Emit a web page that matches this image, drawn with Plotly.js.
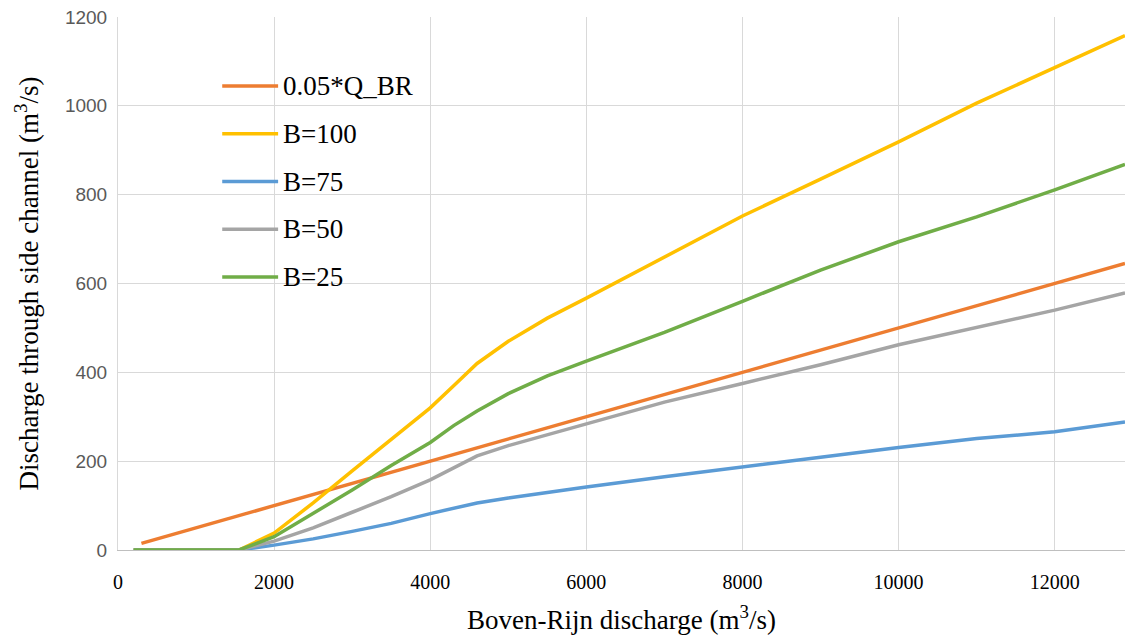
<!DOCTYPE html>
<html>
<head>
<meta charset="utf-8">
<script src="https://cdn.plot.ly/plotly-3.0.1.min.js"></script>
<style>
  html, body { margin: 0; padding: 0; background: #fff; }
  #chart { width: 1125px; height: 642px; }
</style>
</head>
<body>
<div id="chart"></div>
<script>
// ---- Data ----
const seriesNames = ["0.05*Q_BR", "B=100", "B=75", "B=50", "B=25"];
const seriesColors = ["#ED7D31", "#FFC000", "#5B9BD5", "#A5A5A5", "#70AD47"];

const qbrX = [300, 1000, 2000, 3000, 4000, 5000, 6000, 7000, 8000, 9000, 10000, 11000, 12000, 12900];
const qbrY = [15, 50, 100, 150, 200, 250, 300, 350, 400, 450, 500, 550, 600, 645];

const bX = [200, 1000, 1550, 2000, 2500, 3000, 3500, 4000, 4300, 4600, 5000, 5500, 6000, 7000, 8000, 9000, 10000, 11000, 12000, 12900];
const b100Y = [0, 0, 0, 38, 106, 178, 250, 320, 370, 420, 470, 522, 567, 660, 752, 835, 919, 1006, 1085, 1158];
const b75Y  = [0, 0, 0, 11, 25, 42, 60, 82, 95, 106, 117, 130, 142, 165, 188, 209, 231, 251, 266, 288];
const b50Y  = [0, 0, 0, 20, 50, 85, 120, 158, 185, 212, 235, 260, 283, 333, 375, 417, 462, 502, 540, 579];
const b25Y  = [0, 0, 0, 30, 82, 135, 190, 242, 280, 313, 352, 392, 425, 490, 560, 630, 694, 750, 811, 868];

const xTitle = "Boven-Rijn discharge (m<sup>3</sup>/s)";
const yTitle = "Discharge through side channel (m<sup>3</sup>/s)";

const xs = [qbrX, bX, bX, bX, bX];
const ys = [qbrY, b100Y, b75Y, b50Y, b25Y];

const traces = seriesNames.map((n, i) => ({
  type: "scatter",
  mode: "lines",
  name: n,
  x: xs[i],
  y: ys[i],
  line: { color: seriesColors[i], width: 3.5 },
  showlegend: false
}));

// custom legend (line sample + label) in paper coordinates
const legTop = 0.8705, legStep = 0.0896;
const shapes = [];
const annotations = [];
seriesNames.forEach((n, i) => {
  const yy = legTop - i * legStep;
  shapes.push({
    type: "line", xref: "paper", yref: "paper",
    x0: 0.1035, x1: 0.159, y0: yy, y1: yy,
    line: { color: seriesColors[i], width: 3.5 }
  });
  annotations.push({
    xref: "paper", yref: "paper", x: 0.162, y: yy,
    xanchor: "left", yanchor: "middle", showarrow: false,
    text: n,
    font: { family: "Liberation Serif, Times New Roman, serif", size: 27, color: "#000" }
  });
});

const layout = {
  width: 1125, height: 642,
  margin: { l: 118, r: 0, t: 17, b: 92 },
  paper_bgcolor: "#fff", plot_bgcolor: "#fff",
  showlegend: false,
  xaxis: {
    range: [0, 12900],
    tickvals: [0, 2000, 4000, 6000, 8000, 10000, 12000],
    ticktext: ["0", "2000", "4000", "6000", "8000", "10000", "12000"],
    showgrid: true, gridcolor: "#D9D9D9", gridwidth: 1,
    zeroline: false,
    showline: true, linecolor: "#BFBFBF", linewidth: 1,
    ticks: "", ticklabelstandoff: 14,
    tickfont: { family: "Liberation Serif, Times New Roman, serif", size: 20, color: "#000" },
    title: { text: xTitle, standoff: 18,
      font: { family: "Liberation Serif, Times New Roman, serif", size: 27, color: "#000" } }
  },
  yaxis: {
    range: [0, 1200],
    tickvals: [0, 200, 400, 600, 800, 1000, 1200],
    showgrid: true, gridcolor: "#D9D9D9", gridwidth: 1,
    zeroline: false,
    showline: true, linecolor: "#D9D9D9", linewidth: 1,
    ticks: "", ticklabelstandoff: 6,
    tickfont: { family: "Liberation Sans, Arial, sans-serif", size: 19, color: "#595959" },
    title: { text: yTitle, standoff: 18,
      font: { family: "Liberation Serif, Times New Roman, serif", size: 27, color: "#000" } }
  },
  shapes: shapes,
  annotations: annotations
};

Plotly.newPlot("chart", traces, layout, { displayModeBar: false, staticPlot: true });
</script>
</body>
</html>
